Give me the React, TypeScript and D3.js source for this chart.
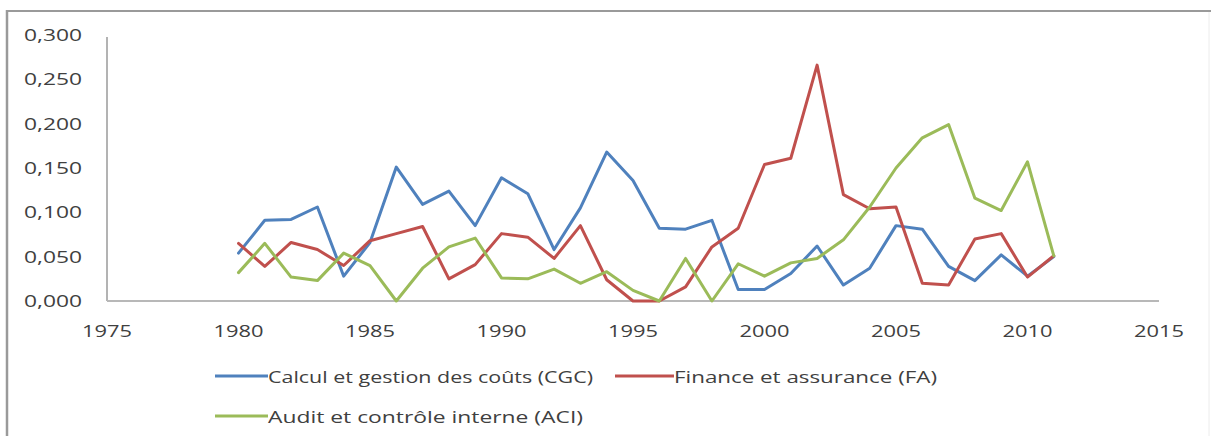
import React, { useEffect } from "react";
import * as d3 from "d3";

const years = [
  1980, 1981, 1982, 1983, 1984, 1985, 1986, 1987, 1988, 1989, 1990, 1991,
  1992, 1993, 1994, 1995, 1996, 1997, 1998, 1999, 2000, 2001, 2002, 2003,
  2004, 2005, 2006, 2007, 2008, 2009, 2010, 2011,
];

const cgc = [
  0.054, 0.091, 0.092, 0.106, 0.028, 0.066, 0.151, 0.109, 0.124, 0.085, 0.139,
  0.121, 0.058, 0.105, 0.168, 0.136, 0.082, 0.081, 0.091, 0.013, 0.013, 0.031,
  0.062, 0.018, 0.037, 0.085, 0.081, 0.039, 0.023, 0.052, 0.028, 0.05,
];

const fa = [
  0.065, 0.039, 0.066, 0.058, 0.04, 0.068, 0.076, 0.084, 0.025, 0.041, 0.076,
  0.072, 0.048, 0.085, 0.024, 0.0, 0.0, 0.016, 0.061, 0.082, 0.154, 0.161,
  0.266, 0.12, 0.104, 0.106, 0.02, 0.018, 0.07, 0.076, 0.027, 0.051,
];

const aci = [
  0.032, 0.065, 0.027, 0.023, 0.054, 0.04, 0.0, 0.037, 0.061, 0.071, 0.026,
  0.025, 0.036, 0.02, 0.033, 0.012, 0.0, 0.048, 0.0, 0.042, 0.028, 0.043,
  0.048, 0.069, 0.106, 0.15, 0.184, 0.199, 0.116, 0.102, 0.157, 0.051,
];

const xTicks = [1975, 1980, 1985, 1990, 1995, 2000, 2005, 2010, 2015];
const yTicks = [0, 0.05, 0.1, 0.15, 0.2, 0.25, 0.3];

const seriesNames = [
  "Calcul et gestion des coûts (CGC)",
  "Finance et assurance (FA)",
  "Audit et contrôle interne (ACI)",
];
const seriesColors = ["#4F81BD", "#C0504D", "#9BBB59"];
const seriesValues = [cgc, fa, aci];

const W = 1211;
const H = 436;
const FONT = "'Open Sans', 'DejaVu Sans', sans-serif";
const TEXT = "#404040";

export default function App() {
  useEffect(() => {
    document.body.style.margin = "0";
    document.body.style.overflow = "hidden";
  }, []);

  const x = d3.scaleLinear().domain([1975, 2015]).range([107, 1159]);
  const y = d3.scaleLinear().domain([0, 0.3]).range([301, 35]);

  const line = d3
    .line<number>()
    .x((_, i) => x(years[i]))
    .y((d) => y(d));

  const fmt = (v: number) => d3.format(".3f")(v).replace(".", ",");

  const legend = [
    { lx: 215, tx: 268, tl: 325, cy: 376 },
    { lx: 615, tx: 674, tl: 263, cy: 376 },
    { lx: 215, tx: 268, tl: 315, cy: 416 },
  ];

  return (
    <svg
      width={W}
      height={H}
      style={{ position: "absolute", left: 0, top: 0, background: "#fff" }}
      fontFamily={FONT}
    >
      <rect x={0} y={0} width={W} height={H} fill="#fff" />
      {/* outer frame */}
      <line x1={1209} x2={1209} y1={12} y2={H} stroke="#ececec" strokeWidth={1} />
      <line x1={6} x2={W} y1={11} y2={11} stroke="#9a9a9a" strokeWidth={2} />
      <line x1={7} x2={7} y1={10} y2={H} stroke="#9a9a9a" strokeWidth={2.5} />
      {/* y axis */}
      <line x1={107} x2={107} y1={y(0.3) + 2} y2={y(0)} stroke="#9a9a9a" strokeWidth={1.5} />
      {/* x axis */}
      <line x1={x(1975)} x2={x(2015)} y1={y(0)} y2={y(0)} stroke="#b8b8b8" strokeWidth={2} />
      {yTicks.map((t) => (
        <text
          key={"y" + t}
          x={82}
          y={y(t)}
          textAnchor="end"
          dominantBaseline="central"
          fontSize={16}
          fill={TEXT}
          textLength={58}
          lengthAdjust="spacingAndGlyphs"
        >
          {fmt(t)}
        </text>
      ))}
      {xTicks.map((t) => (
        <text
          key={"x" + t}
          x={x(t) - 25}
          y={337}
          fontSize={17}
          fill={TEXT}
          textLength={50}
          lengthAdjust="spacingAndGlyphs"
        >
          {t}
        </text>
      ))}
      {seriesValues.map((vals, i) => (
        <path
          key={"s" + i}
          d={line(vals) || ""}
          fill="none"
          stroke={seriesColors[i]}
          strokeWidth={3}
          strokeLinejoin="round"
          strokeLinecap="round"
        />
      ))}
      {seriesNames.map((name, i) => {
        const l = legend[i];
        return (
          <g key={"l" + i}>
            <line
              x1={l.lx}
              x2={l.tx}
              y1={l.cy}
              y2={l.cy}
              stroke={seriesColors[i]}
              strokeWidth={3}
            />
            <text
              x={l.tx}
              y={l.cy}
              dominantBaseline="central"
              fontSize={17}
              fill={TEXT}
              textLength={l.tl}
              lengthAdjust="spacingAndGlyphs"
            >
              {name}
            </text>
          </g>
        );
      })}
    </svg>
  );
}
